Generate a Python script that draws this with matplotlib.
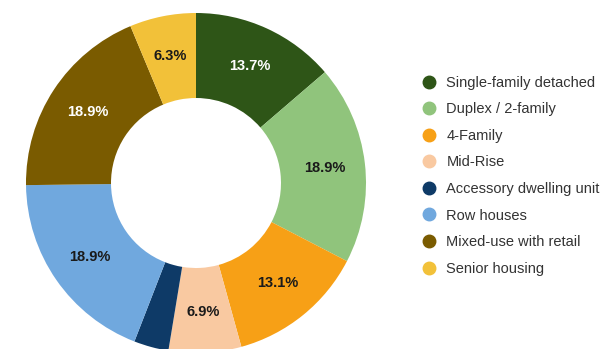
import matplotlib.pyplot as plt
import numpy as np
from matplotlib.lines import Line2D

plt.rcParams['font.family'] = ['Liberation Sans', 'DejaVu Sans']

# Housing type shares (percent), clockwise from 12 o'clock
categories = ['Single-family detached', 'Duplex / 2-family', '4-Family', 'Mid-Rise',
              'Accessory dwelling unit', 'Row houses', 'Mixed-use with retail',
              'Senior housing']
shares = [13.7, 18.9, 13.1, 6.9, 3.3, 18.9, 18.9, 6.3]
colors = ['#2e5517', '#90c47c', '#f7a016', '#f9c9a1', '#0e3a67', '#70a8de',
          '#7a5b00', '#f2c139']
text_colors = ['white', '#1a1a1a', '#1a1a1a', '#1a1a1a', 'white', '#1a1a1a',
               'white', '#1a1a1a']
show_label = [True, True, True, True, False, True, True, True]

W, H = 605, 349
fig = plt.figure(figsize=(W / 100, H / 100), dpi=100)
fig.patch.set_facecolor('white')

# donut axes: center (196, 183) px, outer radius 170 px
cx, cy, r = 196, 183, 170
ax = fig.add_axes([(cx - r) / W, (H - cy - r) / H, 2 * r / W, 2 * r / H])
ax.set_aspect('equal')

wedges, _ = ax.pie(shares, colors=colors, startangle=90, counterclock=False,
                   radius=1.0, wedgeprops=dict(width=0.5, linewidth=0))

for w, val, tc, show in zip(wedges, shares, text_colors, show_label):
    if not show:
        continue
    ang = np.deg2rad((w.theta1 + w.theta2) / 2)
    ax.text(0.76 * np.cos(ang), 0.76 * np.sin(ang), f'{val:.1f}%',
            ha='center', va='center', fontsize=10.5, fontweight='bold', color=tc)
ax.set_xlim(-1, 1)
ax.set_ylim(-1, 1)
ax.axis('off')

handles = [Line2D([0], [0], marker='o', linestyle='none', markersize=9,
                  markerfacecolor=c, markeredgecolor=c) for c in colors]
leg = fig.legend(handles, categories, loc='upper left',
                 bbox_to_anchor=(412 / W, 1 - 70 / H), frameon=False,
                 fontsize=10.5, labelspacing=0.86, handletextpad=0.45,
                 handlelength=1.5, borderaxespad=0)
for t in leg.get_texts():
    t.set_color('#333333')

fig.savefig('out.png', dpi=100, facecolor='white')
